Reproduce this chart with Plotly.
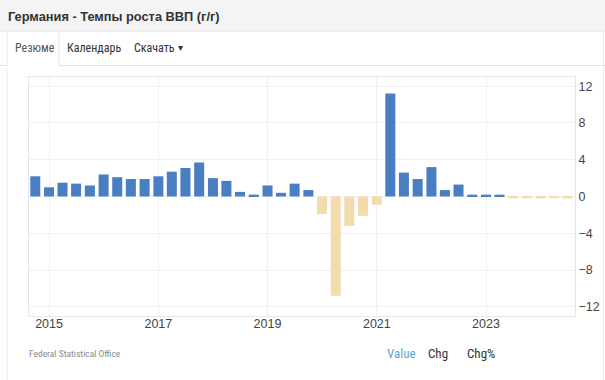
import plotly.graph_objects as go

# ---- data ----
quarters = [
    "2014-10-01", "2015-01-01", "2015-04-01", "2015-07-01", "2015-10-01",
    "2016-01-01", "2016-04-01", "2016-07-01", "2016-10-01",
    "2017-01-01", "2017-04-01", "2017-07-01", "2017-10-01",
    "2018-01-01", "2018-04-01", "2018-07-01", "2018-10-01",
    "2019-01-01", "2019-04-01", "2019-07-01", "2019-10-01",
    "2020-01-01", "2020-04-01", "2020-07-01", "2020-10-01",
    "2021-01-01", "2021-04-01", "2021-07-01", "2021-10-01",
    "2022-01-01", "2022-04-01", "2022-07-01", "2022-10-01",
    "2023-01-01", "2023-04-01", "2023-07-01", "2023-10-01",
    "2024-01-01", "2024-04-01", "2024-07-01",
]
gdp_yoy = [
    2.2, 1.0, 1.5, 1.4, 1.2,
    2.4, 2.1, 1.9, 1.9,
    2.2, 2.7, 3.1, 3.7,
    2.0, 1.7, 0.5, 0.2,
    1.2, 0.4, 1.4, 0.7,
    -1.9, -10.8, -3.2, -2.1,
    -0.9, 11.2, 2.6, 1.9,
    3.2, 0.7, 1.3, 0.2,
    0.2, 0.2, -0.2, -0.2,
    -0.2, -0.2, -0.2,
]
y_ticks = [-12, -8, -4, 0, 4, 8, 12]
x_tick_labels = ["2015", "2017", "2019", "2021", "2023"]

BLUE = "#4a7ec2"
BEIGE = "#f3dbab"
colors = [BLUE if v >= 0 else BEIGE for v in gdp_yoy]

W, H = 605, 380
L, R, T, B = 29, 575, 77, 316


def px(x):
    return (x - L) / (R - L)


def py(y):
    return (B - y) / (B - T)


fig = go.Figure()
fig.add_trace(go.Bar(
    x=quarters, y=gdp_yoy, marker=dict(color=colors, line=dict(width=0)),
    width=67 * 86400000, hoverinfo="x+y",
))

FONT = "Liberation Sans, Arial, sans-serif"
NARROW = "Liberation Sans Narrow, Roboto Condensed, Roboto, sans-serif"
shapes = [
    # title bar
    dict(type="rect", xref="paper", yref="paper", x0=px(0), x1=px(W), y0=py(0), y1=py(31),
         fillcolor="#f4f4f4", line=dict(width=0), layer="below"),
    dict(type="line", xref="paper", yref="paper", x0=px(0), x1=px(W), y0=py(31), y1=py(31),
         line=dict(color="#e2e2e2", width=1)),
    # tab bottom border
    dict(type="line", xref="paper", yref="paper", x0=px(0), x1=px(7), y0=py(65.5), y1=py(65.5),
         line=dict(color="#e2e2e2", width=1)),
    dict(type="line", xref="paper", yref="paper", x0=px(59), x1=px(W), y0=py(65.5), y1=py(65.5),
         line=dict(color="#e2e2e2", width=1)),
    # active tab borders
    dict(type="line", xref="paper", yref="paper", x0=px(7), x1=px(7), y0=py(31), y1=py(380),
         line=dict(color="#ececec", width=1)),
    dict(type="line", xref="paper", yref="paper", x0=px(59), x1=px(59), y0=py(31), y1=py(65.5),
         line=dict(color="#e2e2e2", width=1)),
    # right panel border
    dict(type="line", xref="paper", yref="paper", x0=px(603.5), x1=px(603.5), y0=py(31), y1=py(380),
         line=dict(color="#ececec", width=1)),
]

annotations = [
    dict(text="<b>Германия - Темпы роста ВВП (г/г)</b>", x=px(6), y=py(16), xref="paper", yref="paper",
         xanchor="left", yanchor="middle", showarrow=False, font=dict(size=12.8, color="#333333", family=FONT)),
    dict(text="Резюме", x=px(13), y=py(48), xref="paper", yref="paper", xanchor="left", yanchor="middle",
         showarrow=False, font=dict(size=12, color="#555555", family=NARROW)),
    dict(text="Календарь", x=px(65), y=py(48), xref="paper", yref="paper", xanchor="left", yanchor="middle",
         showarrow=False, font=dict(size=12, color="#333333", family=NARROW)),
    dict(text="Скачать", x=px(132), y=py(48), xref="paper", yref="paper", xanchor="left", yanchor="middle",
         showarrow=False, font=dict(size=12, color="#333333", family=NARROW)),
    dict(text="▾", x=px(176), y=py(47), xref="paper", yref="paper", xanchor="left", yanchor="middle",
         showarrow=False, font=dict(size=10, color="#333333", family=FONT)),
    dict(text="Federal Statistical Office", x=px(27), y=py(353), xref="paper", yref="paper",
         xanchor="left", yanchor="middle", showarrow=False, font=dict(size=9.5, color="#888888", family=NARROW)),
    dict(text="Value", x=px(384.5), y=py(353), xref="paper", yref="paper", xanchor="left", yanchor="middle",
         showarrow=False, font=dict(size=13, color="#5aa6cc", family=NARROW)),
    dict(text="Chg", x=px(425.5), y=py(353), xref="paper", yref="paper", xanchor="left", yanchor="middle",
         showarrow=False, font=dict(size=13, color="#333333", family=NARROW)),
    dict(text="Chg%", x=px(464.5), y=py(353), xref="paper", yref="paper", xanchor="left", yanchor="middle",
         showarrow=False, font=dict(size=13, color="#333333", family=NARROW)),
]

fig.update_layout(
    width=W, height=H,
    margin=dict(l=L, r=W - R, t=T, b=H - B, pad=0, autoexpand=False),
    paper_bgcolor="white", plot_bgcolor="white",
    showlegend=False,
    shapes=shapes, annotations=annotations,
    font=dict(family=FONT, color="#444444", size=13),
    xaxis=dict(
        type="date", range=["2014-08-20", "2024-08-18"],
        tickvals=[f"{y}-01-01" for y in x_tick_labels], ticktext=x_tick_labels,
        showgrid=True, gridcolor="#f0f0f0", gridwidth=1,
        showline=True, linecolor="#e6e6e6", linewidth=1, mirror=True,
        ticks="", zeroline=False, tickfont=dict(size=12.5, color="#444444"),
        ticklabelstandoff=-4, automargin=False,
    ),
    yaxis=dict(
        range=[-13, 13], side="right", tickvals=y_ticks,
        showgrid=True, gridcolor="#f0f0f0", gridwidth=1,
        showline=True, linecolor="#e6e6e6", linewidth=1, mirror=True,
        ticks="", zeroline=False, tickfont=dict(size=12.5, color="#444444"),
        automargin=False,
    ),
)

fig.write_html(
    "out.html",
    config={"displayModeBar": False},
    post_script="document.body.style.margin='0';document.body.style.overflow='hidden';",
)
